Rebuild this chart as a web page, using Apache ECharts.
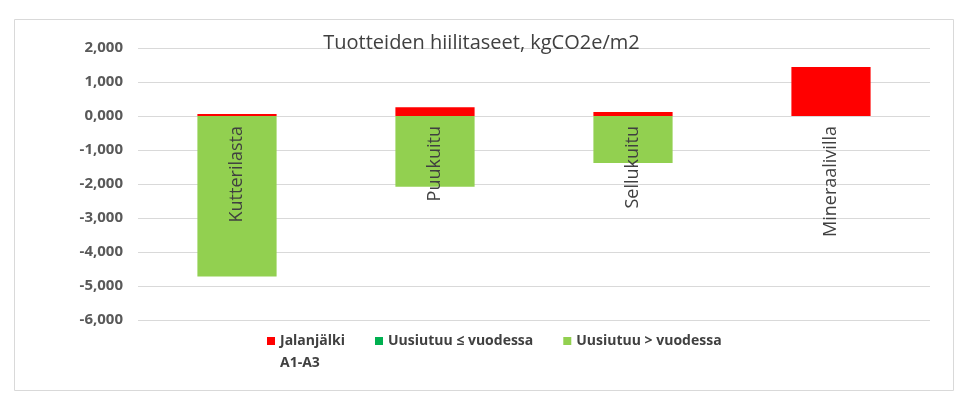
<!DOCTYPE html>
<html>
<head>
<meta charset="utf-8">
<script src="https://cdn.jsdelivr.net/npm/echarts@6/dist/echarts.min.js"></script>
<style>html,body{margin:0;padding:0;background:#fff}#c{width:963px;height:394px}</style>
</head>
<body>
<div id="c"></div>
<script>
const categories = ['Kutterilasta', 'Puukuitu', 'Sellukuitu', 'Mineraalivilla'];
const seriesNames = ['Jalanjälki A1-A3', 'Uusiutuu ≤ vuodessa', 'Uusiutuu > vuodessa'];
const footprint = [0.06, 0.26, 0.12, 1.44];
const renewsWithinYear = [0, 0, 0, 0];
const renewsOverYear = [-4.72, -2.08, -1.38, 0];
const titleText = 'Tuotteiden hiilitaseet, kgCO2e/m2';
const colors = ['#FF0000', '#00B050', '#92D050'];

const FONT = '"Open Sans", "Liberation Sans", sans-serif';
const chart = echarts.init(document.getElementById('c'), null, {renderer: 'canvas'});
const fmt = v => v.toFixed(3).replace('.', ',');

const gridTop = 48, gridBottom = 74, yMin = -6, yMax = 2;
const plotH = 394 - gridTop - gridBottom;
const zeroOffset = -plotH * (0 - yMin) / (yMax - yMin);

chart.setOption({
  animation: false,
  graphic: [{
    type: 'rect', left: 12, top: 17,
    shape: {width: 939, height: 371},
    style: {fill: 'none', stroke: '#d9d9d9', lineWidth: 1}, silent: true
  }],
  title: {
    text: titleText, left: 'center', top: 28,
    textStyle: {fontFamily: FONT, fontSize: 20, fontWeight: 'normal', color: '#404040'}
  },
  legend: {
    left: 262, top: 303, itemWidth: 8, itemHeight: 8, itemGap: 30,
    icon: 'rect',
    textStyle: {fontFamily: FONT, fontSize: 14, fontWeight: 'bold', color: '#404040', lineHeight: 22},
    data: seriesNames,
    formatter: n => n === seriesNames[0] ? '\u00a0\nJalanjälki\nA1-A3' : n
  },
  grid: {left: 138, right: 33, top: gridTop, bottom: gridBottom, containLabel: false, outerBoundsMode: 'none'},
  xAxis: {
    type: 'category', data: categories, position: 'bottom', offset: zeroOffset,
    z: 10,
    axisLine: {show: false, onZero: false},
    axisTick: {show: false},
    axisLabel: {rotate: 90, margin: 10, fontFamily: FONT, fontSize: 18, color: '#404040', interval: 0}
  },
  yAxis: {
    type: 'value', min: yMin, max: yMax, interval: 1,
    axisLine: {show: false}, axisTick: {show: false},
    splitLine: {lineStyle: {color: '#d9d9d9'}},
    axisLabel: {formatter: fmt, margin: 15, fontFamily: FONT, fontSize: 15, fontWeight: 'bold', color: '#595959'}
  },
  series: [
    {name: seriesNames[0], type: 'bar', stack: 's', data: footprint, itemStyle: {color: colors[0]}, barWidth: '40%'},
    {name: seriesNames[1], type: 'bar', stack: 's', data: renewsWithinYear, itemStyle: {color: colors[1]}, barWidth: '40%'},
    {name: seriesNames[2], type: 'bar', stack: 's', data: renewsOverYear, itemStyle: {color: colors[2]}, barWidth: '40%'}
  ]
});
</script>
</body>
</html>
